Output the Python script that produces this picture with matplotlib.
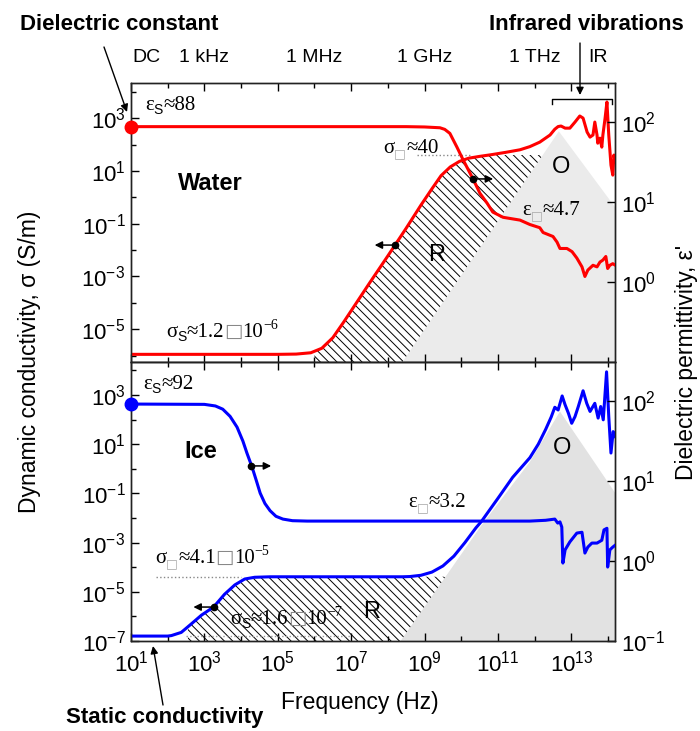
import numpy as np
import matplotlib
matplotlib.use('Agg')
import matplotlib.pyplot as plt
from matplotlib.patches import Polygon
from matplotlib.lines import Line2D
from matplotlib.ticker import FixedLocator, NullFormatter, NullLocator, LogFormatterMathtext

# ---------------- data (log10 values) ----------------
water_sigma_logf = [1.0, 5.0, 5.5, 5.9, 6.2, 6.5, 6.8, 7.0, 7.5, 8.0, 8.5, 8.9, 9.2, 9.45, 9.7,
                    9.95, 10.2, 10.5, 10.8, 11.2, 11.6, 11.87, 12.14, 12.42, 12.55, 12.64, 12.72,
                    12.83, 12.96, 13.10, 13.23, 13.32, 13.43, 13.51, 13.59, 13.64, 13.70, 13.72,
                    13.78, 13.83, 13.86, 13.92, 13.97, 14.02, 14.08, 14.13, 14.16, 14.2]
water_sigma_log = [-5.95, -5.95, -5.94, -5.89, -5.72, -5.32, -4.72, -4.30, -3.25, -2.22, -1.17,
                   -0.30, 0.32, 0.82, 1.15, 1.36, 1.48, 1.55, 1.61, 1.70, 1.80, 1.92, 2.09, 2.36,
                   2.58, 2.68, 2.70, 2.62, 2.62, 2.85, 3.08, 3.00, 2.47, 2.28, 2.36, 2.85, 2.36,
                   2.05, 2.24, 1.90, 2.36, 3.00, 3.61, 2.36, 1.22, 0.84, 1.60, 1.33]

water_eps_logf = [1.0, 8.5, 9.0, 9.42, 9.55, 9.69, 9.88, 10.05, 10.32, 10.51, 10.70, 10.86, 11.14,
                  11.6, 11.87, 12.14, 12.23, 12.50, 12.61, 12.69, 12.88, 13.02, 13.15, 13.29, 13.37,
                  13.45, 13.59, 13.70, 13.78, 13.86, 13.94, 13.99, 14.05, 14.13, 14.2]
water_eps_log = [1.944, 1.944, 1.94, 1.93, 1.91, 1.86, 1.69, 1.53, 1.29, 1.11, 0.99, 0.875, 0.81,
                 0.775, 0.72, 0.68, 0.62, 0.57, 0.50, 0.42, 0.42, 0.38, 0.30, 0.19, 0.07,
                 0.15, 0.21, 0.19, 0.25, 0.275, 0.32, 0.17, 0.21, 0.23, 0.21]

ice_sigma_logf = [1.0, 2.0, 2.1, 2.37, 2.64, 2.92, 3.25, 3.55, 3.83, 4.10, 4.37, 4.8, 8.4, 8.6, 8.9,
                  9.2, 9.5, 9.8, 10.1, 10.4, 10.55, 11.0, 11.4, 11.87, 12.1, 12.3, 12.45, 12.55,
                  12.64, 12.75, 12.83, 12.92, 13.01, 13.10, 13.19, 13.32, 13.42, 13.51, 13.64,
                  13.73, 13.80, 13.87, 13.96, 14.02, 14.08, 14.14, 14.2]
ice_sigma_log = [-6.80, -6.80, -6.78, -6.65, -6.31, -5.95, -5.62, -5.10, -4.72, -4.48, -4.41, -4.39,
                 -4.39, -4.38, -4.33, -4.20, -3.95, -3.55, -3.0, -2.4, -2.14, -1.2, -0.35, 0.45,
                 1.0, 1.6, 2.1, 2.5, 2.39, 2.96, 2.60, 2.26, 1.85, 2.12, 2.53, 3.17, 2.66, 2.33,
                 2.66, 2.06, 2.53, 1.99, 3.94, 2.12, 0.64, 1.51, 1.31]

ice_eps_logf = [1.0, 3.0, 3.3, 3.5, 3.7, 3.89, 4.05, 4.16, 4.30, 4.42, 4.52, 4.65, 4.79, 4.95, 5.14,
                5.4, 5.8, 11.87, 12.3, 12.55, 12.63, 12.69, 12.74, 12.77, 12.83, 12.96, 13.15, 13.29,
                13.37, 13.45, 13.56, 13.70, 13.83, 13.89, 13.97, 13.99, 14.05, 14.13, 14.2]
ice_eps_log = [1.964, 1.96, 1.94, 1.90, 1.81, 1.675, 1.50, 1.35, 1.175, 1.0, 0.85, 0.72, 0.63, 0.56,
               0.525, 0.505, 0.50, 0.50, 0.51, 0.525, 0.475, 0.49, 0.425, -0.025, 0.14, 0.24, 0.35,
               0.36, 0.10, 0.175, 0.225, 0.225, 0.26, 0.39, 0.41, -0.075, 0.14, 0.175, 0.20]

# optical (O) grey regions, log10 coords
top_gray_logf = [8.37, 12.66, 14.19, 14.19]
top_gray_log = [-6.3, 2.5, -0.37, -6.3]
bot_gray_logf = [8.3, 10.55, 11.87, 12.69, 14.19, 14.19]
bot_gray_log = [-7.1, -2.3, 0.28, 2.33, -0.97, -7.1]

water_sigma_inf = 40.0
ice_sigma_inf = 4.1e-5
ice_sigma_s = 1.6e-7
water_eps_s = 88.0
ice_eps_s = 92.0

top_labels = ['DC', '1 kHz', '1 MHz', '1 GHz', '1 THz', 'IR']
top_label_logf = [1.42, 3.0, 6.0, 9.0, 12.0, 13.72]

W, H = 700, 731
RED = '#ff0000'
BLUE = '#0000ff'

plt.rcParams['font.family'] = ['Liberation Sans', 'DejaVu Sans']
plt.rcParams['mathtext.fontset'] = 'custom'
plt.rcParams['mathtext.rm'] = 'Liberation Sans'
plt.rcParams['mathtext.it'] = 'Liberation Sans:italic'
plt.rcParams['mathtext.bf'] = 'Liberation Sans:bold'
plt.rcParams['hatch.linewidth'] = 0.7

fig = plt.figure(figsize=(W / 100, H / 100), dpi=100)


def rect(top, bottom):
    return [131 / W, 1 - bottom / H, (615 - 131) / W, (bottom - top) / H]


axT = fig.add_axes(rect(83, 362))
axB = fig.add_axes(rect(362, 641))
axT2 = axT.twinx()
axB2 = axB.twinx()

p = lambda v: np.power(10.0, np.asarray(v, dtype=float))

for ax in (axT, axB):
    ax.set_xscale('log')
    ax.set_yscale('log')
    ax.set_xlim(p(1), p(14.19))
for ax in (axT2, axB2):
    ax.set_yscale('log')
    ax.set_ylim(p(-1), p(2.49))
axT.set_ylim(p(-6.24), p(4.33))
axB.set_ylim(p(-7), p(4.34))

# grey optical region
axT.fill(p(top_gray_logf), p(top_gray_log), color='#ebebeb', lw=0, zorder=0)
axB.fill(p(bot_gray_logf), p(bot_gray_log), color='#e2e2e2', lw=0, zorder=0)

# hatched relaxation region
hT = axT.fill_between(p(water_sigma_logf), p(water_sigma_log), p(-6.3), facecolor='none',
                      edgecolor='k', lw=0, hatch='\\\\\\\\', zorder=1)
clipT = Polygon(np.column_stack([p([6.0, 6.0, 12.22, 8.37]),
                                 [p(-6.3), water_sigma_inf, water_sigma_inf, p(-6.3)]]),
                closed=True, transform=axT.transData, facecolor='none', edgecolor='none')
axT.add_patch(clipT)
hT.set_clip_path(clipT)

hB = axB.fill_between(p(ice_sigma_logf), p(ice_sigma_log), p(-7.1), facecolor='none',
                      edgecolor='k', lw=0, hatch='\\\\\\\\', zorder=1)
clipB = Polygon(np.column_stack([p([2.55, 2.55, 9.57, 8.3]),
                                 [p(-7.1), ice_sigma_inf, ice_sigma_inf, p(-7.1)]]),
                closed=True, transform=axB.transData, facecolor='none', edgecolor='none')
axB.add_patch(clipB)
hB.set_clip_path(clipB)

# dotted reference lines
axT.plot(p([8.79, 10.25]), [water_sigma_inf] * 2, ls=':', color='#888888', lw=1.0, zorder=2)
axB.plot(p([1.68, 4.0]), [ice_sigma_inf] * 2, ls=':', color='#888888', lw=1.0, zorder=2)
axB.plot(p([2.5, 7.0]), [ice_sigma_s] * 2, ls=':', color='#999999', lw=1.0, zorder=2)

# curves
axT.plot(p(water_sigma_logf), p(water_sigma_log), color=RED, lw=2.2, zorder=3)
axB.plot(p(ice_sigma_logf), p(ice_sigma_log), color=BLUE, lw=2.2, zorder=3)
axT2.plot(p(water_eps_logf), p(water_eps_log), color=RED, lw=2.2, zorder=3)
axB2.plot(p(ice_eps_logf), p(ice_eps_log), color=BLUE, lw=2.2, zorder=3)
axT2.plot([p(1)], [water_eps_s], 'o', color=RED, ms=9, clip_on=False, zorder=5)
axB2.plot([p(1)], [ice_eps_s], 'o', color=BLUE, ms=9, clip_on=False, zorder=5)


def axis_arrow(ax, lf, lv, direction):
    x0, y0 = p(lf), p(lv)
    x1 = p(lf + 0.55 * direction)
    ax.annotate('', xy=(x1, y0), xytext=(x0, y0),
                arrowprops=dict(arrowstyle='-|>', color='k', lw=1.1, mutation_scale=11,
                                shrinkA=0, shrinkB=0), zorder=6)
    ax.plot([x0], [y0], 'o', color='k', ms=4.5, zorder=6)


axis_arrow(axT, 8.19, -1.81, -1)
axis_arrow(axT2, 10.32, 1.29, 1)
axis_arrow(axB2, 4.27, 1.19, 1)
axis_arrow(axB, 3.25, -5.62, -1)

# ticks
fmt = LogFormatterMathtext()
for ax, lows in ((axT, [-5, -3, -1, 1, 3]), (axB, [-7, -5, -3, -1, 1, 3])):
    ax.xaxis.set_major_locator(FixedLocator(p([1, 3, 5, 7, 9, 11, 13])))
    ax.xaxis.set_minor_locator(FixedLocator(p([2, 4, 6, 8, 10, 12, 14])))
    ax.xaxis.set_minor_formatter(NullFormatter())
    ax.xaxis.set_major_formatter(fmt)
    ax.yaxis.set_major_locator(FixedLocator(p(lows)))
    ax.yaxis.set_minor_locator(FixedLocator(p([-6, -4, -2, 0, 2, 4])))
    ax.yaxis.set_major_formatter(fmt)
    ax.yaxis.set_minor_formatter(NullFormatter())
    ax.tick_params(which='both', direction='in', top=True, width=1, labelsize=16, pad=4)
    ax.tick_params(which='major', length=6)
    ax.tick_params(which='minor', length=3.5)
    ax.tick_params(axis='x', which='major', pad=7)
axT.tick_params(labelbottom=False)
axT2.yaxis.set_major_locator(FixedLocator(p([0, 1, 2])))
axB2.yaxis.set_major_locator(FixedLocator(p([-1, 0, 1, 2])))
for ax in (axT2, axB2):
    ax.yaxis.set_minor_locator(NullLocator())
    ax.yaxis.set_major_formatter(fmt)
    ax.tick_params(which='both', direction='in', width=1, length=6, labelsize=16, pad=4)
for ax in (axT, axB, axT2, axB2):
    for s in ax.spines.values():
        s.set_linewidth(1.0)
        s.set_color('#222222')

for lab, lf in zip(top_labels, top_label_logf):
    axT.text(p(lf), 1.093, lab, transform=axT.get_xaxis_transform(), ha='center', va='center',
             fontsize=14)

# ---------------- text annotations ----------------
def fx(x):
    return x / W


def fy(y):
    return 1 - y / H


fig.text(fx(30), fy(362), 'Dynamic conductivity, σ (S/m)', rotation=90, ha='center', va='center',
         fontsize=16.5)
fig.text(fx(686), fy(362), "Dielectric permittivity, ε'", rotation=90, ha='center', va='center',
         fontsize=16.5)
fig.text(fx(360), fy(702), 'Frequency (Hz)', ha='center', va='center', fontsize=16.5)

fig.text(fx(119), fy(25), 'Dielectric constant', ha='center', va='center', fontsize=16,
         fontweight='bold')
fig.text(fx(586), fy(25), 'Infrared vibrations', ha='center', va='center', fontsize=16,
         fontweight='bold')
fig.text(fx(165), fy(718), 'Static conductivity', ha='center', va='center', fontsize=16,
         fontweight='bold')
fig.text(fx(210), fy(183), 'Water', ha='center', va='center', fontsize=17, fontweight='bold')
fig.text(fx(201), fy(451), 'Ice', ha='center', va='center', fontsize=17, fontweight='bold')
for s, x, y in (('R', 437, 255), ('O', 561, 167), ('R', 372, 612), ('O', 562, 448)):
    fig.text(fx(x), fy(y), s, ha='center', va='center', fontsize=17)


def farrow(x1, y1, x2, y2):
    fig.add_artist(matplotlib.patches.FancyArrowPatch(
        (x1, H - y1), (x2, H - y2), transform=None, arrowstyle='-|>', mutation_scale=11,
        color='k', lw=1.0, shrinkA=0, shrinkB=0))


farrow(104, 47, 127, 112)
farrow(580, 43, 580, 95)
farrow(163, 705, 153, 646)
fig.add_artist(Line2D([fx(552), fx(552), fx(612), fx(612)], [fy(104), fy(99), fy(99), fy(104)],
                      transform=fig.transFigure, color='k', lw=1.0))

SERIF = ['Liberation Serif', 'DejaVu Serif']
SANS = ['Liberation Sans', 'DejaVu Sans']
BOX = ['DejaVu Sans']
renderer = fig.canvas.get_renderer()


def rich(x, y, parts):
    cx = x
    for s, size, fam, col, dy in parts:
        t = fig.text(fx(cx), fy(y + dy), s, fontsize=size, family=fam, color=col,
                     va='baseline', ha='left')
        cx += t.get_window_extent(renderer=renderer).width


def eq(sym, sub, val, x, y, sub_is_box=False, exp=None, mant=None):
    parts = [(sym, 15, SERIF, 'k', 0)]
    if sub_is_box:
        parts.append(('□', 9, BOX, '#aaaaaa', 4))
    else:
        parts.append((sub, 10, SANS, 'k', 4))
    if exp is None:
        parts.append(('≈' + val, 15, SERIF, 'k', 0))
    else:
        parts += [('≈' + mant, 15, SERIF, 'k', 0), ('□', 14, BOX, '#888888', 0),
                  ('10', 15, SERIF, 'k', 0), (exp, 10, SERIF, 'k', -8)]
    rich(x, y, parts)


eq('ε', 'S', '88', 145, 110)
eq('σ', 'S', None, 166, 337, exp='−6', mant='1.2')
eq('σ', None, '40', 383, 153, sub_is_box=True)
eq('ε', None, '4.7', 522, 215, sub_is_box=True)
eq('ε', 'S', '92', 143, 389)
eq('ε', None, '3.2', 408, 507, sub_is_box=True)
eq('σ', None, None, 155, 563, sub_is_box=True, exp='−5', mant='4.1')
eq('σ', 'S', None, 230, 624, exp='−7', mant='1.6')

fig.savefig('out.png', dpi=100)
